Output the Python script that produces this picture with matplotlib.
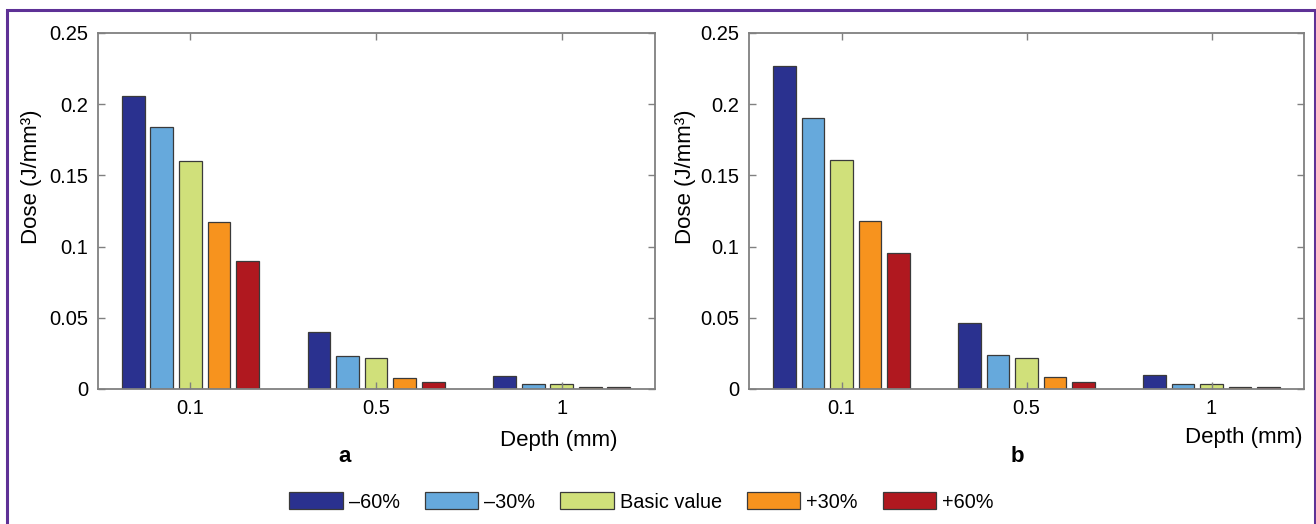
import numpy as np
import matplotlib
matplotlib.use("Agg")
import matplotlib.pyplot as plt
from matplotlib.patches import Rectangle

plt.rcParams['font.family'] = ['Liberation Sans', 'DejaVu Sans']

# data
depths = ['0.1', '0.5', '1']
series = ['\u201360%', '\u201330%', 'Basic value', '+30%', '+60%']
colors = ['#2a318f', '#66a9dc', '#d0e07a', '#f7931e', '#b0181f']

dose_a = [
    [0.206, 0.0398, 0.0094],   # -60%
    [0.184, 0.0232, 0.0033],   # -30%
    [0.160, 0.0215, 0.0033],   # basic
    [0.1175, 0.0080, 0.0012],  # +30%
    [0.0897, 0.0049, 0.0012],  # +60%
]
dose_b = [
    [0.2265, 0.0463, 0.0099],
    [0.190, 0.0242, 0.0035],
    [0.1605, 0.0216, 0.0035],
    [0.118, 0.0082, 0.0012],
    [0.0954, 0.0049, 0.0012],
]

W, H = 1316, 524
fig = plt.figure(figsize=(W / 100, H / 100), dpi=100)

# purple frame around the whole figure
fig.patches.append(Rectangle((7.3 / W, -0.1), (1315 - 7.3) / W, 1.1 - 10.3 / H,
                             transform=fig.transFigure, fill=False,
                             edgecolor='#5e3196', linewidth=2.2))


def draw_panel(ax, data, ylabel_x, xlabel_x, xlabel_y):
    n = len(data)
    x = np.arange(1, len(depths) + 1)
    group_w = min(0.8, n / (n + 1.5))
    pitch = group_w / n
    handles = []
    for i, vals in enumerate(data):
        off = (i - (n - 1) / 2) * pitch
        b = ax.bar(x + off, vals, width=pitch * 0.8, color=colors[i],
                   edgecolor='#3a3a3a', linewidth=0.9, label=series[i])
        handles.append(b)
    ax.set_xlim(0.5, 3.5)
    ax.set_ylim(0, 0.25)
    ax.set_xticks(x)
    ax.set_xticklabels(depths)
    ax.set_yticks([0, 0.05, 0.1, 0.15, 0.2, 0.25])
    ax.set_yticklabels(['0', '0.05', '0.1', '0.15', '0.2', '0.25'])
    ax.tick_params(direction='in', length=5, width=1, color='#808080',
                   labelsize=14.5, pad=7, top=True, right=True)
    for s in ax.spines.values():
        s.set_color('#808080')
        s.set_linewidth(1.3)
    ax.set_ylabel('Dose (J/mm\u00b3)', fontsize=16)
    ax.yaxis.set_label_coords(ylabel_x, 0.596)
    ax.set_xlabel('Depth (mm)', fontsize=16, ha='right', va='baseline')
    ax.xaxis.set_label_coords(xlabel_x, xlabel_y)
    return handles


ax1 = fig.add_axes([97.6 / W, 1 - 389 / H, (654.5 - 97.6) / W, (389 - 33) / H])
ax2 = fig.add_axes([749 / W, 1 - 389 / H, (1304 - 749) / W, (389 - 33) / H])

handles = draw_panel(ax1, dose_a, -0.099, 0.9327, -0.160)
draw_panel(ax2, dose_b, -0.0955, 0.998, -0.152)

fig.text(345 / W, 1 - 457 / H, 'a', fontsize=16, fontweight='bold',
         ha='center', va='center')
fig.text(1017 / W, 1 - 456 / H, 'b', fontsize=16, fontweight='bold',
         ha='center', va='center')

leg = fig.legend(handles, series, loc='center', ncol=5,
                 bbox_to_anchor=(641.5 / W, 1 - 502 / H), frameon=False,
                 fontsize=14.3, handlelength=2.7, handleheight=0.9,
                 handletextpad=0.3, columnspacing=1.25)

fig.savefig('out.png', dpi=100)
